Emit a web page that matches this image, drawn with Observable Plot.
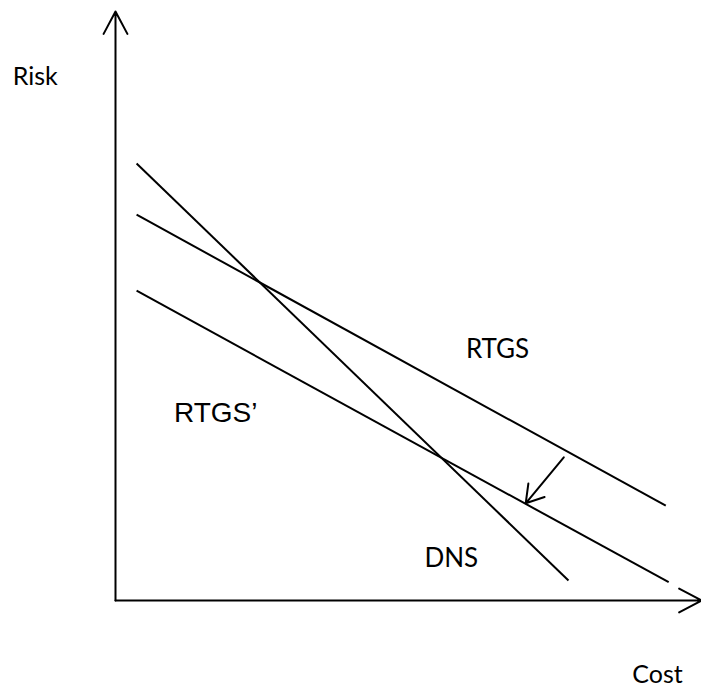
<!DOCTYPE html>
<html>
<head>
<meta charset="utf-8">
<script src="https://cdn.jsdelivr.net/npm/d3@7"></script>
<script src="https://cdn.jsdelivr.net/npm/@observablehq/plot@0.6"></script>
<style>
  html, body { margin: 0; padding: 0; background: #fff; }
  svg { display: block; overflow: visible; }
</style>
</head>
<body>
<div id="chart"></div>
<script>
// Curves (Cost on x, Risk on y; arbitrary units 0–100)
const curveNames = ["DNS", "RTGS", "RTGS'"];
const curveX1 = [3.6, 3.6, 3.6];
const curveY1 = [74.2, 65.5, 52.6];
const curveX2 = [77.3, 93.9, 94.4];
const curveY2 = [3.4, 16.1, 3.1];

// Shift arrow (RTGS -> RTGS')
const shiftFrom = [76.5, 24.3];
const shiftTo = [70.0, 16.5];

// Labels
const labelText = ["RTGS", "RTGS’", "DNS"];
const labelX = [65.2, 17.1, 57.3];
const labelY = [42.6, 31.9, 7.1];
const labelFont = ["Lato", "Liberation Sans", "Lato"];

const axisTitles = ["Risk", "Cost"];
const axisTitleX = [-13.7, 92.5];
const axisTitleY = [88.8, -12.6];

const curves = curveNames.map((name, i) => ({name, x1: curveX1[i], y1: curveY1[i], x2: curveX2[i], y2: curveY2[i]}));
const labels = labelText.map((t, i) => ({t, x: labelX[i], y: labelY[i], font: labelFont[i]}));
const titles = axisTitles.map((t, i) => ({t, x: axisTitleX[i], y: axisTitleY[i]}));

const chart = Plot.plot({
  width: 701,
  height: 690,
  marginLeft: 115,
  marginRight: 0,
  marginTop: 11,
  marginBottom: 90,
  x: {domain: [0, 100], axis: null},
  y: {domain: [0, 100], axis: null},
  style: {background: "#fff"},
  marks: [
    // axes with arrowheads
    Plot.arrow([{x1: 0, y1: 0, x2: 0, y2: 100}], {x1: "x1", y1: "y1", x2: "x2", y2: "y2", stroke: "#000", strokeWidth: 2, headLength: 19, headAngle: 56}),
    Plot.arrow([{x1: 0, y1: 0, x2: 100, y2: 0}], {x1: "x1", y1: "y1", x2: "x2", y2: "y2", stroke: "#000", strokeWidth: 2, headLength: 19, headAngle: 56}),
    // curves
    Plot.link(curves, {x1: "x1", y1: "y1", x2: "x2", y2: "y2", stroke: "#000", strokeWidth: 2}),
    // shift arrow
    Plot.arrow([{x1: shiftFrom[0], y1: shiftFrom[1], x2: shiftTo[0], y2: shiftTo[1]}], {x1: "x1", y1: "y1", x2: "x2", y2: "y2", stroke: "#000", strokeWidth: 2, headLength: 17, headAngle: 64}),
    // labels
    Plot.text(labels.filter(d => d.font === "Lato"), {x: "x", y: "y", text: "t", fontSize: 26, fontFamily: "Lato", fill: "#000", textAnchor: "middle", lineAnchor: "middle"}),
    Plot.text(labels.filter(d => d.font !== "Lato"), {x: "x", y: "y", text: "t", fontSize: 28, fontFamily: "Liberation Sans", fill: "#000", textAnchor: "middle", lineAnchor: "middle"}),
    Plot.text(titles, {x: "x", y: "y", text: "t", fontSize: 25, fontFamily: "Lato", fill: "#000", textAnchor: "middle", lineAnchor: "middle"})
  ]
});
document.getElementById("chart").appendChild(chart);
</script>
</body>
</html>
